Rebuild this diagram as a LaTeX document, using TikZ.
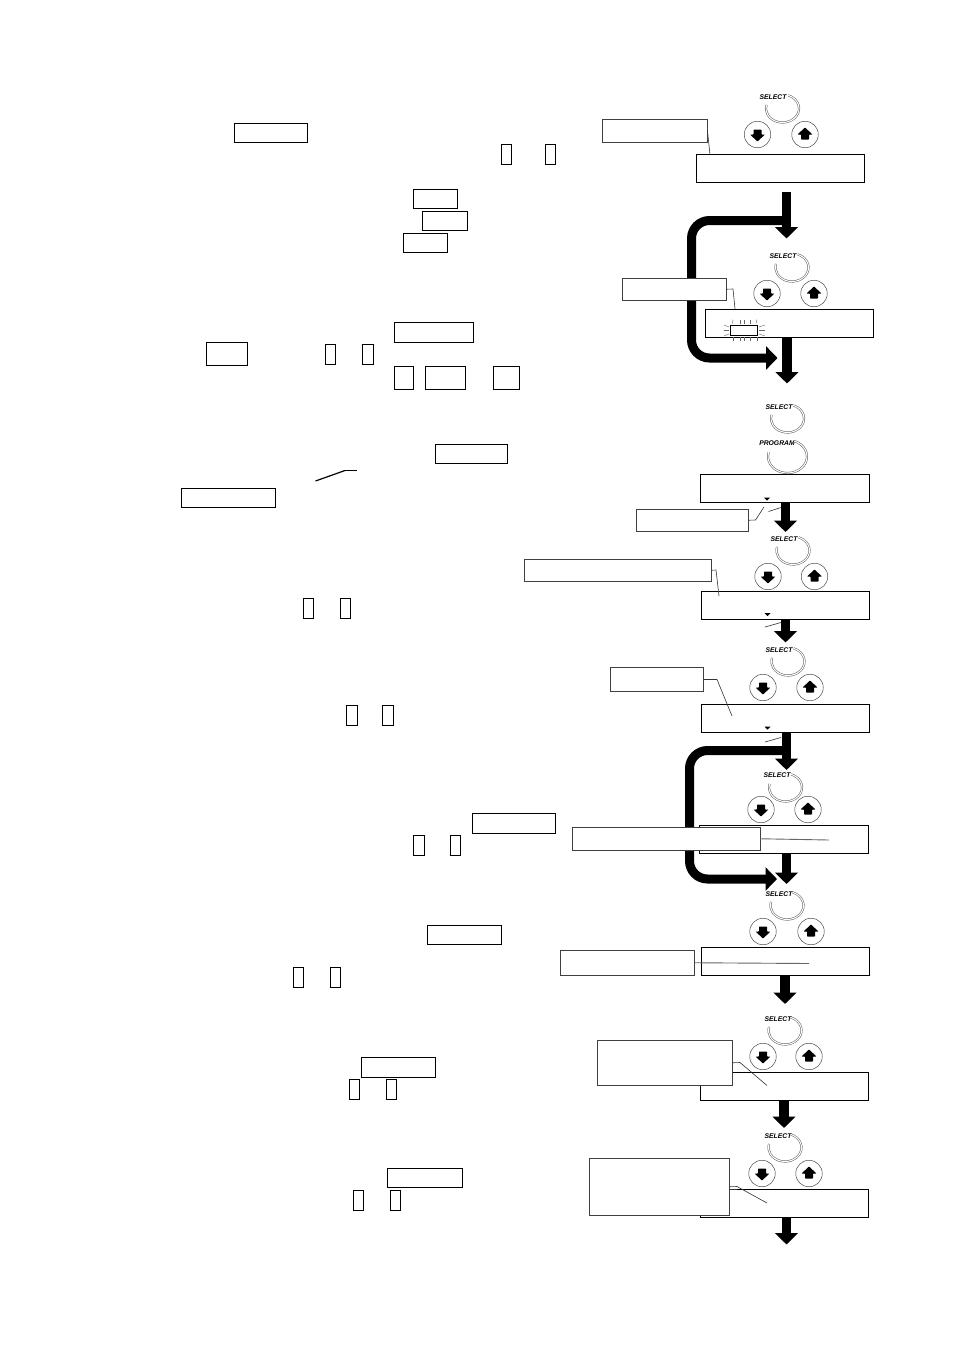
\documentclass[tikz,border=0pt]{standalone}
\usepackage{fontspec}
\setsansfont{Liberation Sans}
\usetikzlibrary{arrows.meta}
\tikzset{
  rectst/.style={draw=black,line width=0.9pt,fill=white,inner sep=0pt,outer sep=0pt},
  lcdst/.style={rectst,line width=1pt},
  callst/.style={draw=black!75,line width=1pt,fill=white,inner sep=0pt,outer sep=0pt},
  leaderst/.style={draw=black!80,line width=0.6pt},
  leadergray/.style={draw=black!60,line width=0.9pt},
  flow/.style={draw=black,line width=9.5pt,-{Triangle[width=22.5pt,length=11.5pt]}},
  loopst/.style={draw=black,line width=9pt,rounded corners=18pt,-{Triangle[width=23pt,length=11.5pt]}},
  btn/.style={circle,draw=black!70,line width=0.5pt,minimum size=26.5pt,inner sep=0pt,outer sep=0pt},
  ringst/.style={draw=black!65,line width=0.5pt,double=white,double distance=1.1pt},
  lbl/.style={font=\sffamily\bfseries\itshape\fontsize{6.8}{7}\selectfont,inner sep=0pt},
  ray/.style={draw=black!60,line width=0.4pt},
}
\newcommand\bx[6]{%
  \pgfmathsetmacro\bw{#5-#3}\pgfmathsetmacro\bh{#6-#4}%
  \pgfmathsetmacro\cxx{(#3+#5)/2}\pgfmathsetmacro\cyy{(#4+#6)/2}%
  \node[#1,minimum width=\bw pt,minimum height=\bh pt] (#2) at (\cxx,\cyy) {};}
\newcommand\ringat[3]{% x y scale
  \draw[ringst,shift={(#1,#2)}] (-70:#3*16.5 and #3*14) arc[start angle=-70,end angle=195,x radius=#3*16.5,y radius=#3*14];}
\newcommand\dnbtn[3]{%
  \node[btn] (#1) at (#2,#3) {};
  \fill[black,shift={(#2,#3)},rounded corners=0.6pt] (-4,-5) -- (4,-5) -- (4,0) -- (7.5,0) -- (0,7) -- (-7.5,0) -- (-4,0) -- cycle;}
\newcommand\upbtn[3]{%
  \node[btn] (#1) at (#2,#3) {};
  \fill[black,shift={(#2,#3)},rounded corners=0.6pt] (-4,5) -- (4,5) -- (4,0) -- (7.5,0) -- (0,-7) -- (-7.5,0) -- (-4,0) -- cycle;}
\newcommand\tri[2]{\fill[black] (#1-3,#2-1.5) -- (#1+3,#2-1.5) -- (#1,#2+1.5) -- cycle;}
\newcommand\dial[8]{% id, select x y, ring x y, dn x y... up x
  \node[lbl] (sel#1) at (#2,#3) {SELECT};
  \ringat{#4}{#5}{1}
  \dnbtn{dn#1}{#6}{#7}
  \upbtn{up#1}{#8}{#7}}
\begin{document}
\begin{tikzpicture}[x=1pt,y=-1pt]
\useasboundingbox (0,0) rectangle (954,1350);
\fill[white] (0,0) rectangle (954,1350);

% left column placeholders
\bx{rectst}{t1}{234}{123.5}{307}{142.5}
\bx{rectst}{t2}{501.5}{144.5}{511.5}{164}
\bx{rectst}{t3}{545.5}{144.5}{555.5}{164}
\bx{rectst}{t4}{413.5}{189.5}{457.5}{208.5}
\bx{rectst}{t5}{422.5}{211.5}{467.5}{230.5}
\bx{rectst}{t6}{403.5}{233.5}{447.5}{252.5}
\bx{rectst}{t7}{394.5}{322.5}{473.5}{342.5}
\bx{rectst}{t8}{206.5}{342.5}{247.5}{365.5}
\bx{rectst}{t9}{325.5}{344.5}{335.5}{364.5}
\bx{rectst}{t10}{362.5}{344.5}{373.5}{364.5}
\bx{rectst}{t11}{394.5}{366.5}{413.5}{389.5}
\bx{rectst}{t12}{425.5}{366.5}{465.5}{389.5}
\bx{rectst}{t13}{493.5}{366.5}{519.5}{389.5}
\bx{rectst}{t14}{435.5}{444.5}{507.5}{463.5}
\bx{rectst}{t15}{181.5}{488.5}{275.5}{507.5}
\coordinate (sl1) at (315.5,481);
\coordinate (sl2) at (345,470.5);
\coordinate (sl3) at (357,470.5);
\draw[black,line width=1.2pt] (sl1) -- (sl2);
\draw[black,line width=0.6pt] (sl2) -- (sl3);
\bx{rectst}{t16}{303.5}{598.5}{313.5}{618.5}
\bx{rectst}{t17}{340}{598.5}{350}{618.5}
\bx{rectst}{t18}{346.5}{705.5}{357.5}{725.5}
\bx{rectst}{t19}{382.5}{705.5}{393}{725.5}
\bx{rectst}{t20}{472.5}{813.5}{555.5}{833.5}
\bx{rectst}{t21}{413.5}{835.5}{424.5}{855.5}
\bx{rectst}{t22}{450}{835.5}{460}{855.5}
\bx{rectst}{t23}{427.5}{925.5}{501.5}{944.5}
\bx{rectst}{t24}{293.5}{967.5}{303.5}{987.5}
\bx{rectst}{t25}{330.5}{967.5}{340.5}{987.5}
\bx{rectst}{t26}{361.5}{1057.5}{435.5}{1077.5}
\bx{rectst}{t27}{349.5}{1079.5}{359.5}{1099.5}
\bx{rectst}{t28}{386.5}{1079.5}{396.5}{1099.5}
\bx{rectst}{t29}{387.5}{1168.5}{462.5}{1187.5}
\bx{rectst}{t30}{353.5}{1190.5}{363.5}{1210.5}
\bx{rectst}{t31}{390.5}{1190.5}{400.5}{1210.5}

% flow arrows
\coordinate (a1s) at (786.5,192);  \coordinate (a1e) at (786.5,238.5);
\coordinate (a2s) at (787,337);    \coordinate (a2e) at (787,383.5);
\coordinate (a3s) at (785.5,503);  \coordinate (a3e) at (785.5,532);
\coordinate (a4s) at (785.5,619);  \coordinate (a4e) at (785.5,642.5);
\coordinate (a5s) at (786.5,732);  \coordinate (a5e) at (786.5,770);
\coordinate (a6s) at (786.5,853);  \coordinate (a6e) at (786.5,884);
\coordinate (a7s) at (785,975);    \coordinate (a7e) at (785,1004);
\coordinate (a8s) at (784,1100);   \coordinate (a8e) at (784,1128);
\coordinate (a9s) at (786.5,1217); \coordinate (a9e) at (786.5,1244.5);
\coordinate (l1s) at (786,220.5);  \coordinate (l1c) at (691.5,220.5);
\coordinate (l1d) at (691.5,358);  \coordinate (l1e) at (777.5,358);
\coordinate (l2s) at (786,750.5);  \coordinate (l2c) at (689.5,750.5);
\coordinate (l2d) at (689.5,879);  \coordinate (l2e) at (777,879);
\draw[loopst] (l1s) -- (l1c) -- (l1d) -- (l1e);
\draw[loopst] (l2s) -- (l2c) -- (l2d) -- (l2e);
\foreach \i in {1,...,9}{\draw[flow] (a\i s) -- (a\i e);}

% dial groups
\dial{1}{773}{97}{782.5}{108.5}{757.5}{134.5}{805}
\dial{2}{783}{256}{792}{267.5}{767}{293.5}{814}
\node[lbl] (sel3) at (779,407) {SELECT};
\ringat{787.5}{418.5}{1}
\node[lbl] (prog) at (777,443) {PROGRAM};
\ringat{787.5}{456.5}{1.18}
\dial{4}{784}{539}{793}{550.5}{768}{576.5}{814.5}
\dial{5}{779}{650}{788}{661.5}{763}{687.5}{810}
\dial{6}{777}{775}{785.5}{787.5}{761}{809.5}{808}
\dial{7}{779}{894}{787}{905.5}{763}{931.5}{811}
\dial{8}{778}{1019}{785}{1030.5}{763}{1056.5}{809}
\dial{9}{778}{1136}{785}{1147.5}{762}{1173.5}{809}

% LCD panels
\bx{lcdst}{lcd1}{696.5}{154.5}{864.5}{182.5}
\bx{lcdst}{lcd2}{705.5}{309.5}{873.5}{337.5}
\bx{lcdst}{lcd3}{700.5}{474.5}{869.5}{502.5}
\bx{lcdst}{lcd4}{701.5}{591.5}{869.5}{619.5}
\bx{lcdst}{lcd5}{701.5}{704.5}{869.5}{732.5}
\bx{lcdst}{lcd6}{699.5}{825.5}{868.5}{853.5}
\bx{lcdst}{lcd7}{701.5}{947.5}{869.5}{975.5}
\bx{lcdst}{lcd8}{700.5}{1072.5}{868.5}{1100.5}
\bx{lcdst}{lcd9}{700.5}{1189.5}{868.5}{1217.5}
\tri{767}{499}
\tri{767.5}{614.5}
\tri{767.5}{728}

% flashing cell
\bx{rectst}{cell}{730.5}{325.5}{757.5}{335.5}
\foreach \x/\y in {733/732.5,740/740,744/744,750/750,757/756}{\draw[ray] (\x,319.5) -- (\y,323.5);}
\foreach \x/\y in {733/733,740/740,744/744,750/750,757/757}{\draw[ray] (\x,337) -- (\y,341);}
\foreach \y/\z in {325/327,330/330,336/334}{\draw[ray] (724,\y) -- (729,\z);}
\foreach \y/\z in {327/325,330/330,334/336}{\draw[ray] (759,\y) -- (765,\z);}

% callouts
\bx{callst}{cA}{602.5}{119.5}{707.5}{142.5}
\bx{callst}{cB}{622.5}{278.5}{726}{300}
\bx{callst}{cC}{636}{509.5}{748.5}{531}
\bx{callst}{cD}{524}{559.5}{711.5}{581}
\bx{callst}{cE}{610.5}{667.5}{703.5}{691.5}
\bx{callst}{cF}{572}{827.5}{760}{850}
\bx{callst}{cG}{560.5}{950.5}{694.5}{975}
\bx{callst}{cH}{597.5}{1040.5}{732.5}{1085}
\bx{callst}{cI}{589.5}{1158}{729}{1215.5}

\coordinate (eA) at (710,155);
\coordinate (jB) at (733,289); \coordinate (eB) at (735,309);
\coordinate (jC) at (755.5,520); \coordinate (eC) at (764,507);
\coordinate (jD) at (716,570); \coordinate (eD) at (719,596);
\coordinate (jE) at (717,679.5); \coordinate (eE) at (732,716);
\coordinate (eF) at (829,840);
\coordinate (eG) at (809,963.5);
\coordinate (jH) at (740,1062.5); \coordinate (eH) at (767,1085.5);
\coordinate (jI) at (737,1186.5); \coordinate (eI) at (767,1203);
\coordinate (jIb) at (737,1189);
\coordinate (m3a) at (768.5,511.5); \coordinate (m3b) at (781,507.5);
\coordinate (m4a) at (765,627); \coordinate (m4b) at (781,622.5);
\coordinate (m5a) at (765,742); \coordinate (m5b) at (781,737.5);
\draw[leaderst] (cA.east) -- (eA);
\draw[leaderst] (cB.east) -- (jB) -- (eB);
\draw[leaderst] (cC.east) -- (jC) -- (eC);
\draw[leaderst] (cD.east) -- (jD) -- (eD);
\draw[leaderst] (cE.east) -- (jE) -- (eE);
\draw[leadergray] (cF.east) -- (eF);
\draw[leadergray] (cG.east) -- (eG);
\draw[leaderst] (cH.east) -- (jH) -- (eH);
\draw[leaderst] (cI.east) -- (jI) -- (eI);
\draw[leaderst] (cI.east |- jIb) -- (jIb);
\draw[leaderst] (m3a) -- (m3b);
\draw[leaderst] (m4a) -- (m4b);
\draw[leaderst] (m5a) -- (m5b);
\end{tikzpicture}
\end{document}
